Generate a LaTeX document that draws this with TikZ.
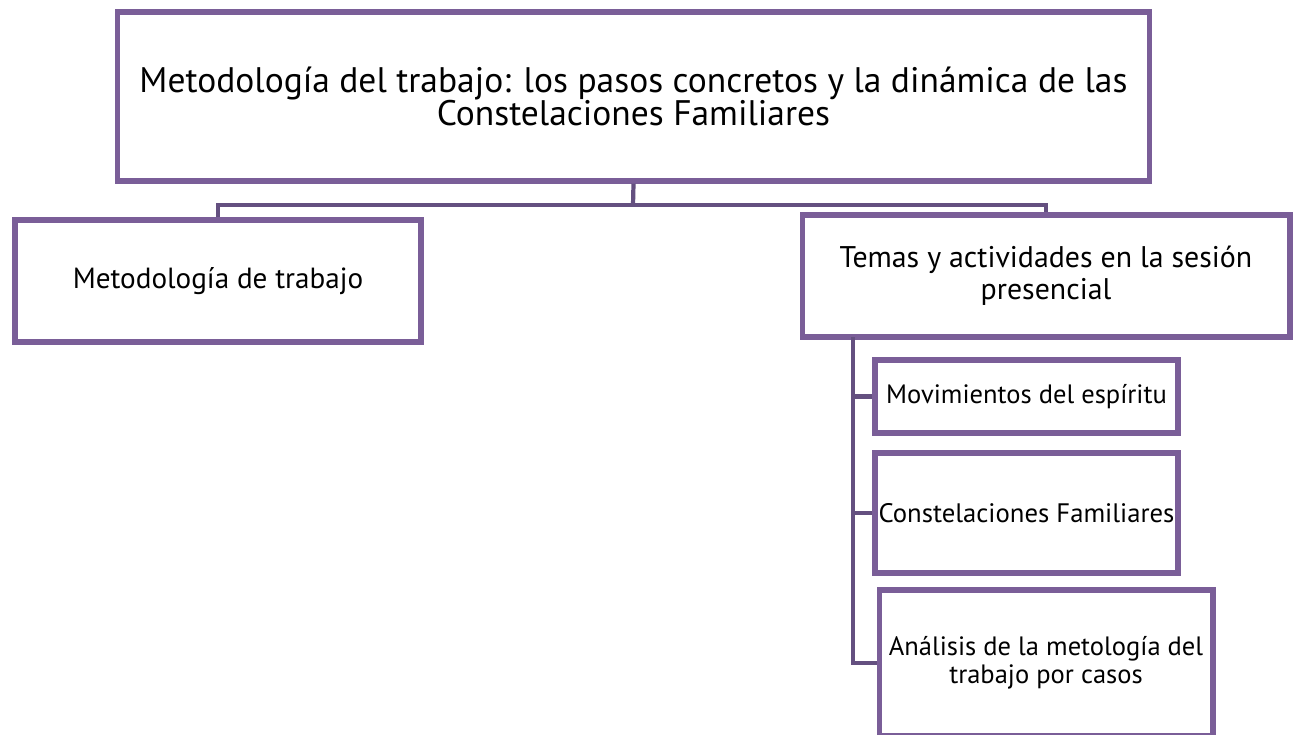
\documentclass[tikz,border=0pt]{standalone}
\usepackage{fontspec}
\setmainfont{PT Sans}
\usepackage{tikz}

\definecolor{boxcol}{RGB}{122,94,152}
\definecolor{linkcol}{RGB}{100,80,128}

\tikzset{
  box/.style={draw=boxcol, line width=2.9pt, rectangle, inner sep=2pt, align=center},
  link/.style={draw=linkcol, line width=2.4pt}
}

\begin{document}
\begin{tikzpicture}[x=0.02cm, y=-0.02cm]
\useasboundingbox (0,0) rectangle (1293,734);
\node[box, minimum width=20.66cm, minimum height=3.38cm, font=\fontsize{20.2}{18.7}\selectfont] (top) at (633.5,96.5)
  {Metodología del trabajo: los pasos concretos y la dinámica de las\\Constelaciones Familiares};
\node[box, minimum width=8.12cm, minimum height=2.44cm, font=\fontsize{16.6}{18}\selectfont] (left) at (218,281) {Metodología de trabajo};
\node[box, minimum width=9.76cm, minimum height=2.44cm, font=\fontsize{17}{18.1}\selectfont] (right) at (1046,276)
  {Temas y actividades en la sesión\\presencial};
\node[box, minimum width=6.06cm, minimum height=1.46cm, font=\fontsize{15.1}{16}\selectfont] (mov) at (1026.5,396.5) {Movimientos del espíritu};
\node[box, minimum width=6.06cm, minimum height=2.4cm, font=\fontsize{15.2}{16}\selectfont] (cons) at (1026.5,513) {Constelaciones Familiares};
\node[box, minimum width=6.68cm, minimum height=2.92cm, font=\fontsize{15.1}{15.9}\selectfont] (anal) at (1046,663)
  {Análisis de la metología del\\trabajo por casos};

% connectors
\coordinate (hub) at (633,205);
\coordinate (rtop) at (853,337);
\draw[link] (top.south) -- (hub);
\draw[link] (left.north) |- (hub) -| (right.north);
\draw[link] (rtop) |- (mov.west);
\draw[link] (rtop) |- (cons.west);
\draw[link] (rtop) |- (anal.west);
\end{tikzpicture}
\end{document}
